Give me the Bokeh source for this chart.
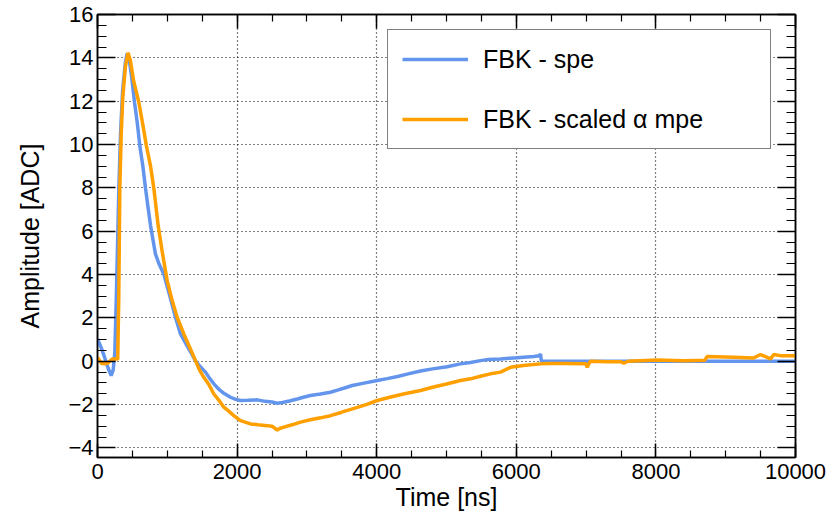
from bokeh.plotting import figure
from bokeh.models import (LinearAxis, SingleIntervalTicker, Range1d, Legend, LegendItem,
                          CustomJSTickFormatter)
from bokeh.embed import file_html
from bokeh.resources import INLINE

# ---- data ----
spe_t = [0, 50, 100, 150, 196, 225, 248, 270, 306, 330, 360, 400, 425, 450, 490, 530, 570,
         606, 650, 688, 720, 760, 806, 830, 880, 950, 1020, 1117, 1189, 1260, 1330, 1404,
         1480, 1547, 1610, 1667, 1740, 1810, 1905, 1980, 2049, 2150, 2288, 2400, 2500, 2575,
         2650, 2750, 2861, 2950, 3050, 3195, 3338, 3450, 3550, 3650, 3800, 4007, 4150, 4300,
         4450, 4628, 4800, 5010, 5200, 5344, 5487, 5600, 5774, 5900, 6013, 6150, 6250, 6330,
         6347, 6360, 7000, 8000, 9000, 10000]
spe_v = [1.03, 0.65, 0.2, -0.3, -0.66, -0.4, 0.4, 3.0, 8.0, 10.5, 12.5, 13.8, 14.2, 14.0,
         13.1, 11.95, 11.0, 9.95, 9.0, 7.98, 7.2, 6.26, 5.4, 4.95, 4.5, 4.03, 3.2, 2.03, 1.26,
         0.85, 0.45, 0.02, -0.28, -0.5, -0.8, -1.04, -1.3, -1.48, -1.66, -1.76, -1.81, -1.80,
         -1.78, -1.85, -1.88, -1.94, -1.9, -1.83, -1.74, -1.66, -1.58, -1.51, -1.43, -1.32,
         -1.22, -1.12, -1.02, -0.89, -0.8, -0.7, -0.58, -0.45, -0.35, -0.25, -0.12, -0.06,
         0.03, 0.08, 0.11, 0.14, 0.16, 0.2, 0.22, 0.25, 0.34, 0.0, 0.0, 0.0, 0.0, 0.0]

mpe_t = [0, 60, 115, 160, 210, 290, 305, 320, 340, 363, 400, 437, 470, 520, 592, 650, 700,
         760, 807, 869, 930, 998, 1070, 1141, 1237, 1320, 1404, 1460, 1523, 1600, 1667, 1740,
         1810, 1880, 1953, 2049, 2192, 2300, 2431, 2500, 2575, 2610, 2670, 2800, 2908, 3050,
         3195, 3338, 3500, 3700, 3850, 4007, 4200, 4400, 4628, 4800, 5000, 5201, 5344, 5500,
         5630, 5774, 5917, 6100, 6347, 6500, 6700, 6963, 7000, 7016, 7050, 7063, 7300, 7500,
         7540, 7600, 8018, 8400, 8700, 8735, 9116, 9400, 9498, 9642, 9690, 9800, 10000]
mpe_v = [0.18, -0.1, -0.12, -0.05, 0.11, 0.1, 3.0, 8.0, 10.5, 12.2, 13.6, 14.23, 13.9, 12.9,
         11.95, 10.9, 9.95, 9.0, 7.98, 6.26, 5.0, 3.72, 2.8, 2.03, 1.26, 0.65, 0.03, -0.4,
         -0.74, -1.1, -1.51, -1.8, -2.12, -2.3, -2.51, -2.74, -2.89, -2.93, -2.97, -3.0,
         -3.17, -3.1, -3.04, -2.92, -2.81, -2.7, -2.61, -2.51, -2.35, -2.15, -2.0, -1.81,
         -1.65, -1.5, -1.35, -1.2, -1.05, -0.89, -0.81, -0.68, -0.58, -0.5, -0.28, -0.2,
         -0.12, -0.1, -0.1, -0.12, -0.12, -0.28, -0.05, 0.0, -0.02, -0.02, -0.09, 0.0, 0.06,
         0.02, 0.05, 0.22, 0.18, 0.15, 0.31, 0.11, 0.31, 0.25, 0.26]

labels = ["FBK - spe", "FBK - scaled α mpe"]
colors = ["#6495ed", "#ffa000"]

FONT = "Liberation Sans"

p = figure(width=835, height=514, output_backend="svg", toolbar_location=None,
           x_range=Range1d(0, 10000), y_range=Range1d(-4.44, 16.0),
           min_border_left=97, min_border_right=40, min_border_top=14, min_border_bottom=57)
p.background_fill_color = "white"
p.border_fill_color = "white"
p.outline_line_color = "black"
p.outline_line_width = 1.5

xt = SingleIntervalTicker(interval=2000, num_minor_ticks=4)
yt = SingleIntervalTicker(interval=2, num_minor_ticks=4)
p.xaxis.ticker = xt
p.yaxis.ticker = yt

minus_fmt = CustomJSTickFormatter(code="return tick < 0 ? '\u2212' + Math.abs(tick) : String(tick);")
blank_fmt = CustomJSTickFormatter(code="return '';")

def style_axis(ax, major_len, minor_len, show_labels=True):
    ax.major_tick_out = 0
    ax.minor_tick_out = 0
    ax.major_tick_in = major_len
    ax.minor_tick_in = minor_len
    ax.axis_line_width = 1.5
    ax.major_tick_line_width = 1.5
    ax.minor_tick_line_width = 1.2
    ax.axis_line_color = "black"
    ax.major_tick_line_color = "black"
    ax.minor_tick_line_color = "black"
    if show_labels:
        ax.major_label_text_font = FONT
        ax.major_label_text_font_size = "22px"
        ax.major_label_text_color = "black"
        ax.axis_label_text_font = FONT
        ax.axis_label_text_font_size = "25px"
        ax.axis_label_text_font_style = "normal"
        ax.axis_label_text_color = "black"
    else:
        ax.formatter = blank_fmt
        ax.major_label_standoff = 0

xa = p.xaxis[0]
ya = p.yaxis[0]
style_axis(xa, 14, 7)
style_axis(ya, 18, 9)
xa.axis_label = "Time [ns]"
ya.axis_label = "Amplitude [ADC]"
xa.major_label_standoff = 6
xa.axis_label_standoff = 1
ya.major_label_standoff = 4
ya.axis_label_standoff = 21
ya.formatter = minus_fmt

ra = LinearAxis(ticker=yt)
style_axis(ra, 18, 9, show_labels=False)
p.add_layout(ra, "right")
ta = LinearAxis(ticker=xt)
style_axis(ta, 14, 7, show_labels=False)
p.add_layout(ta, "above")

for g in (p.xgrid[0], p.ygrid[0]):
    g.grid_line_color = "black"
    g.grid_line_dash = "1 3"
    g.grid_line_width = 1.2

r1 = p.line(spe_t, spe_v, line_color=colors[0], line_width=3.5)
r2 = p.line(mpe_t, mpe_v, line_color=colors[1], line_width=3.5)

legend = Legend(items=[LegendItem(label=labels[0], renderers=[r1]),
                       LegendItem(label=labels[1], renderers=[r2])],
                location=(290, 308), orientation="vertical",
                glyph_width=66, glyph_height=30, label_height=30, label_width=273,
                label_standoff=15, padding=14, spacing=30, margin=0,
                border_line_color="black", border_line_width=1.2,
                background_fill_color="white", background_fill_alpha=1.0,
                label_text_font=FONT, label_text_font_size="25px",
                label_text_color="black")
p.add_layout(legend, "center")

open("out.html", "w").write(file_html(p, INLINE))
